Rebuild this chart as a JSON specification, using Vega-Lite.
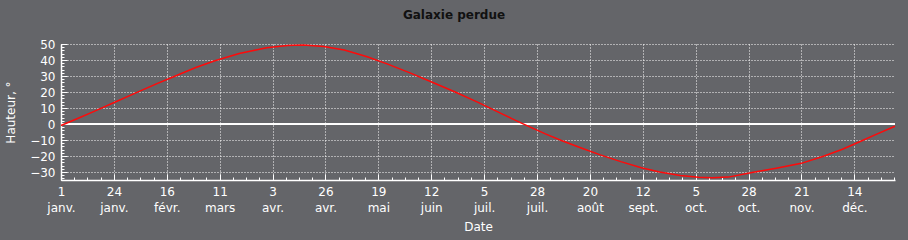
{
  "$schema": "https://vega.github.io/schema/vega-lite/v6.json",
  "width": 834,
  "height": 136,
  "autosize": "none",
  "padding": {"left": 61, "top": 44, "right": 13, "bottom": 60},
  "background": "#646569",
  "title": {"text": "Galaxie perdue", "anchor": "middle", "dx": -24, "offset": 16, "font": "DejaVu Sans", "fontSize": 12, "fontWeight": "bold", "color": "#111111"},
  "config": {"view": {"stroke": null}},
  "data": {"values": [
    {"date": "2023-01-01", "h": -0.9},
    {"date": "2023-01-08", "h": 3.3},
    {"date": "2023-01-15", "h": 7.6},
    {"date": "2023-01-24", "h": 13.3},
    {"date": "2023-02-03", "h": 19.6},
    {"date": "2023-02-12", "h": 25.2},
    {"date": "2023-02-19", "h": 29.4},
    {"date": "2023-03-01", "h": 35.3},
    {"date": "2023-03-09", "h": 39.4},
    {"date": "2023-03-20", "h": 44.0},
    {"date": "2023-04-01", "h": 47.6},
    {"date": "2023-04-10", "h": 49.0},
    {"date": "2023-04-17", "h": 49.3},
    {"date": "2023-04-26", "h": 48.4},
    {"date": "2023-05-05", "h": 46.2},
    {"date": "2023-05-15", "h": 42.0},
    {"date": "2023-05-24", "h": 37.4},
    {"date": "2023-06-03", "h": 31.8},
    {"date": "2023-06-13", "h": 25.8},
    {"date": "2023-06-23", "h": 19.7},
    {"date": "2023-07-03", "h": 13.2},
    {"date": "2023-07-13", "h": 6.3},
    {"date": "2023-07-22", "h": 0.2},
    {"date": "2023-08-01", "h": -6.2},
    {"date": "2023-08-08", "h": -10.3},
    {"date": "2023-08-17", "h": -15.2},
    {"date": "2023-08-25", "h": -19.3},
    {"date": "2023-09-03", "h": -23.5},
    {"date": "2023-09-12", "h": -27.3},
    {"date": "2023-09-20", "h": -30.0},
    {"date": "2023-09-29", "h": -32.2},
    {"date": "2023-10-07", "h": -33.3},
    {"date": "2023-10-13", "h": -33.6},
    {"date": "2023-10-20", "h": -33.2},
    {"date": "2023-10-31", "h": -30.2},
    {"date": "2023-11-10", "h": -27.6},
    {"date": "2023-11-21", "h": -24.6},
    {"date": "2023-12-01", "h": -20.0},
    {"date": "2023-12-09", "h": -15.8},
    {"date": "2023-12-17", "h": -10.8},
    {"date": "2023-12-24", "h": -6.3},
    {"date": "2024-01-01", "h": -1.4}
  ]},
  "resolve": {"axis": {"x": "independent", "y": "independent"}},
  "layer": [
    {
      "mark": {"type": "line", "strokeOpacity": 0},
      "encoding": {
        "x": {"field": "date", "type": "temporal",
          "scale": {"type": "utc", "domain": [1672531200000, 1704067200000], "nice": false},
          "axis": {"orient": "bottom", "values": [1672531200000,1673031200000,1673531200000,1674031200000,1674531200000,1675031200000,1675531200000,1676031200000,1676531200000,1677031200000,1677531200000,1678031200000,1678531200000,1679031200000,1679531200000,1680031200000,1680531200000,1681031200000,1681531200000,1682031200000,1682531200000,1683031200000,1683531200000,1684031200000,1684531200000,1685031200000,1685531200000,1686031200000,1686531200000,1687031200000,1687531200000,1688031200000,1688531200000,1689031200000,1689531200000,1690031200000,1690531200000,1691031200000,1691531200000,1692031200000,1692531200000,1693031200000,1693531200000,1694031200000,1694531200000,1695031200000,1695531200000,1696031200000,1696531200000,1697031200000,1697531200000,1698031200000,1698531200000,1699031200000,1699531200000,1700031200000,1700531200000,1701031200000,1701531200000,1702031200000,1702531200000,1703031200000,1703531200000,1704031200000],
            "labels": false, "grid": false, "domain": false, "title": null, "tickColor": "white", "tickSize": -3, "tickWidth": 1}},
        "y": {"field": "h", "type": "quantitative",
          "scale": {"domain": [-35, 50], "nice": false},
          "axis": {"orient": "left", "values": [-34,-32,-30,-28,-26,-24,-22,-20,-18,-16,-14,-12,-10,-8,-6,-4,-2,0,2,4,6,8,10,12,14,16,18,20,22,24,26,28,30,32,34,36,38,40,42,44,46,48,50],
            "labels": false, "grid": false, "domain": false, "title": null, "tickColor": "white", "tickSize": -3, "tickWidth": 1}}
      }
    },
    {
      "mark": {"type": "rule", "color": "white", "strokeWidth": 1},
      "encoding": {"y": {"datum": 0, "type": "quantitative", "axis": null}}
    },
    {
      "mark": {"type": "line", "color": "#ff0a0a", "strokeWidth": 1.5},
      "encoding": {
        "x": {"field": "date", "type": "temporal",
          "axis": {"orient": "bottom", "values": [1672531200000,1674531200000,1676531200000,1678531200000,1680531200000,1682531200000,1684531200000,1686531200000,1688531200000,1690531200000,1692531200000,1694531200000,1696531200000,1698531200000,1700531200000,1702531200000],
            "labelExpr": "[utcdate(datum.value), ['janv.','févr.','mars','avr.','mai','juin','juil.','août','sept.','oct.','nov.','déc.'][utcmonth(datum.value)]]",
            "labelFlush": false, "labelOverlap": false, "labelColor": "white", "labelFont": "DejaVu Sans", "labelFontSize": 12, "labelLineHeight": 16, "labelPadding": 12,
            "grid": true, "gridColor": "white", "gridDash": [1, 2], "gridOpacity": 1, "gridWidth": 1,
            "domainColor": "white", "domainWidth": 1.5, "tickColor": "white", "tickSize": -6, "tickWidth": 1,
            "title": "Date", "titleColor": "white", "titleFont": "DejaVu Sans", "titleFontSize": 12, "titleFontWeight": "normal", "titlePadding": 8}},
        "y": {"field": "h", "type": "quantitative",
          "axis": {"orient": "left", "values": [-30,-20,-10,0,10,20,30,40,50],
            "labelColor": "white", "labelFont": "DejaVu Sans", "labelFontSize": 12, "labelPadding": 12,
            "grid": true, "gridColor": "white", "gridDash": [1, 2], "gridOpacity": 1, "gridWidth": 1,
            "domainColor": "white", "domainWidth": 1.5, "tickColor": "white", "tickSize": -6, "tickWidth": 1,
            "title": "Hauteur, °", "titleColor": "white", "titleFont": "DejaVu Sans", "titleFontSize": 12, "titleFontWeight": "normal", "titlePadding": 12}}
      }
    }
  ]
}
